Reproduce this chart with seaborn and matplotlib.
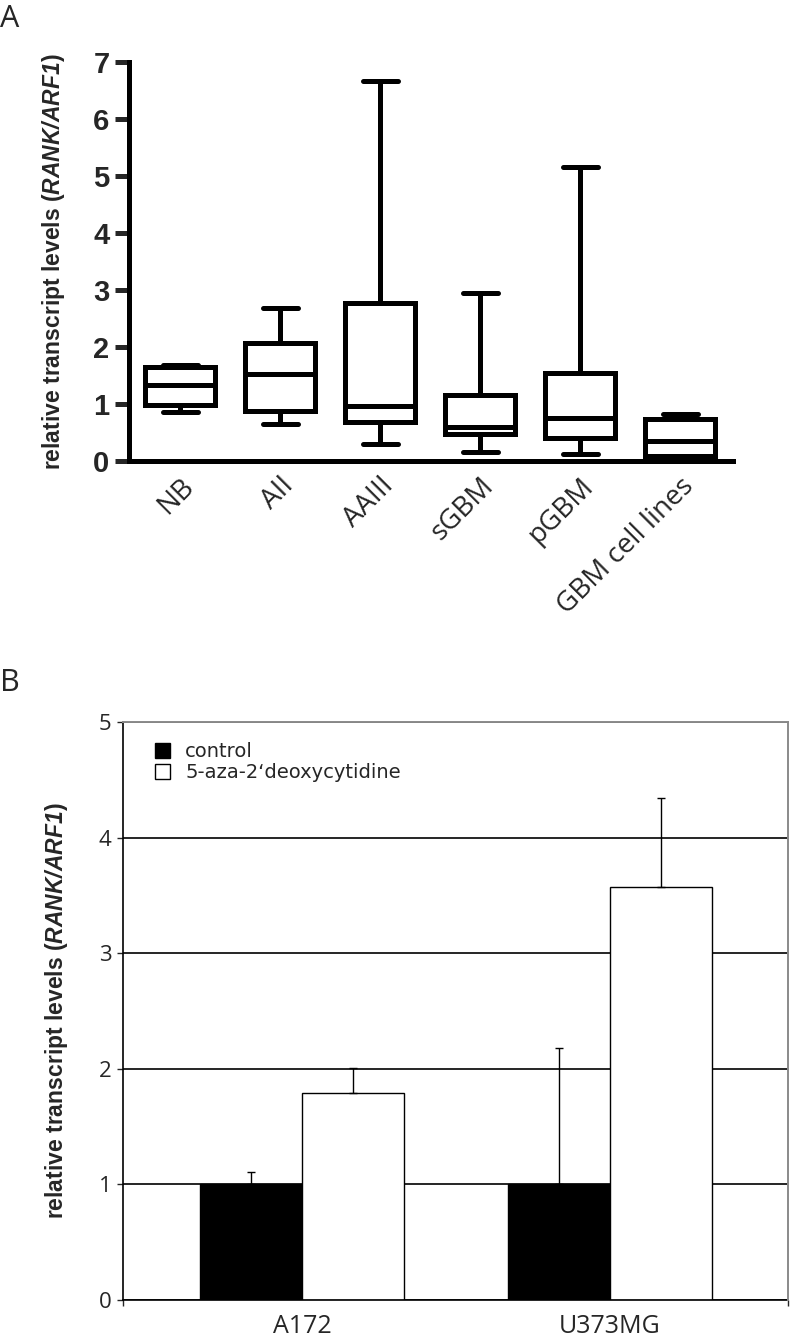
import numpy as np
import pandas as pd
import seaborn as sns
import matplotlib.pyplot as plt

# ---------------------------------------------------------------------------
# DATA
# ---------------------------------------------------------------------------
# Panel A: five-number summaries (min, Q1, median, Q3, max) per group
groups_a = ["NB", "AII", "AAIII", "sGBM", "pGBM", "GBM cell lines"]
whisker_low = [0.86, 0.65, 0.30, 0.15, 0.13, 0.02]
q1 = [0.98, 0.88, 0.68, 0.48, 0.41, 0.08]
median = [1.33, 1.52, 0.96, 0.60, 0.75, 0.35]
q3 = [1.65, 2.07, 2.77, 1.15, 1.54, 0.73]
whisker_high = [1.68, 2.69, 6.66, 2.95, 5.16, 0.82]

# Panel B: mean expression and upper error
cell_lines = ["A172", "U373MG"]
treatments = ["control", "5-aza-2\u2018deoxycytidine"]
control_mean = [1.0, 1.0]
control_err = [0.11, 1.18]
aza_mean = [1.79, 3.57]
aza_err = [0.22, 0.77]

# ---------------------------------------------------------------------------
# STYLE
# ---------------------------------------------------------------------------
sns.set_style("white")
plt.rcParams["font.family"] = ["Liberation Sans", "DejaVu Sans"]
plt.rcParams["mathtext.fontset"] = "custom"
plt.rcParams["mathtext.bf"] = "Liberation Sans:bold"
plt.rcParams["mathtext.it"] = "Liberation Sans:italic"
plt.rcParams["mathtext.bfit"] = "Liberation Sans:bold:italic"

ylabel_txt = r"relative transcript levels ($\mathbfit{RANK/ARF1}$)"

W, H = 790, 1338
fig = plt.figure(figsize=(W / 100, H / 100), dpi=100)

ax_a = fig.add_axes([129 / W, 1 - 461 / H, 604 / W, 399 / H])
ax_b = fig.add_axes([123 / W, 1 - 1300 / H, 665 / W, 578 / H])

# ---------------------------------------------------------------------------
# PANEL A: box plots
# ---------------------------------------------------------------------------
box_df = pd.DataFrame({
    "group": np.repeat(groups_a, 5),
    "value": np.column_stack([whisker_low, q1, median, q3, whisker_high]).ravel(),
})

LW_A = 3.6
sns.boxplot(data=box_df, x="group", y="value", order=groups_a, ax=ax_a,
            whis=(0, 100), width=0.7, color="white", linecolor="black",
            linewidth=LW_A, fliersize=0,
            capprops={"linewidth": LW_A}, whiskerprops={"linewidth": LW_A},
            medianprops={"linewidth": LW_A, "color": "black"})

ax_a.set_xlim(-0.51, 5.53)
ax_a.set_ylim(0, 7)
ax_a.set_yticks(range(8))
for side in ("top", "right"):
    ax_a.spines[side].set_visible(False)
for side in ("left", "bottom"):
    ax_a.spines[side].set_linewidth(LW_A)
    ax_a.spines[side].set_color("black")
ax_a.tick_params(axis="y", direction="out", length=10, width=LW_A, pad=4,
                 left=True, labelsize=21)
for lab in ax_a.get_yticklabels():
    lab.set_fontweight("bold")
ax_a.tick_params(axis="x", length=0, pad=8)
ax_a.set_xticks(range(len(groups_a)))
ax_a.set_xticklabels(groups_a, rotation=45, ha="right", rotation_mode="anchor",
                     fontsize=20, family=["Open Sans", "DejaVu Sans"])
ax_a.set_xlabel("")
ax_a.set_ylabel(ylabel_txt, fontsize=16.5, fontweight="bold")
ax_a.yaxis.set_label_coords(-0.103, 0.5)

# ---------------------------------------------------------------------------
# PANEL B: grouped bars with upper error bars
# ---------------------------------------------------------------------------
bar_df = pd.DataFrame({
    "line": cell_lines * 2,
    "treatment": [treatments[0]] * 2 + [treatments[1]] * 2,
    "mean": control_mean + aza_mean,
    "err": control_err + aza_err,
})

sns.barplot(data=bar_df, x="line", y="mean", hue="treatment",
            order=cell_lines, hue_order=treatments, ax=ax_b,
            palette=["black", "white"], edgecolor="black", linewidth=1,
            width=0.663, errorbar=None, zorder=2)

for cont, trt in zip(ax_b.containers, treatments):
    sub = bar_df[bar_df["treatment"] == trt].set_index("line").loc[cell_lines]
    xs = [b.get_x() + b.get_width() / 2 for b in cont]
    ax_b.errorbar(xs, sub["mean"], yerr=[np.zeros(len(xs)), sub["err"]],
                  fmt="none", ecolor="black", elinewidth=1, capsize=3,
                  capthick=1, zorder=3)

ax_b.set_xlim(-0.581, 1.578)
ax_b.set_ylim(0, 5)
ax_b.set_yticks(range(6))
ax_b.yaxis.grid(True, color="black", linewidth=1.2)
ax_b.set_axisbelow(True)
for side in ("left", "bottom"):
    ax_b.spines[side].set_color("black")
    ax_b.spines[side].set_linewidth(1.2)
for side in ("top", "right"):
    ax_b.spines[side].set_color("#8a8a8a")
    ax_b.spines[side].set_linewidth(1.4)
    ax_b.spines[side].set_zorder(2.6)
ax_b.tick_params(axis="y", direction="out", length=4.5, width=1, pad=4,
                 left=True, labelsize=16)
ax_b.tick_params(axis="x", which="major", length=0, pad=10, labelsize=18)
ax_b.set_xticks([-0.581, 1.578], minor=True)
ax_b.tick_params(axis="x", which="minor", direction="out", length=4.5,
                 width=1, bottom=True)
for lab in ax_b.get_xticklabels() + ax_b.get_yticklabels():
    lab.set_family(["Open Sans", "DejaVu Sans"])
ax_b.set_xlabel("")
ax_b.set_ylabel(ylabel_txt, fontsize=16.5, fontweight="bold")
ax_b.yaxis.set_label_coords(-0.08, 0.5)

handles, labels = ax_b.get_legend_handles_labels()
ax_b.legend(handles, labels, loc="upper left", bbox_to_anchor=(0.048, 0.965),
            frameon=False, handlelength=0.75, handleheight=0.75,
            handletextpad=0.8, labelspacing=0.1, borderpad=0, borderaxespad=0,
            prop={"family": "DejaVu Sans", "size": 14})

# panel letters
fig.text(0.0, 1 - 4 / H, "A", fontsize=22, va="top", ha="left",
         family=["Open Sans", "DejaVu Sans"])
fig.text(0.0, 1 - 668 / H, "B", fontsize=22, va="top", ha="left",
         family=["Open Sans", "DejaVu Sans"])

fig.savefig("out.png", dpi=100)
